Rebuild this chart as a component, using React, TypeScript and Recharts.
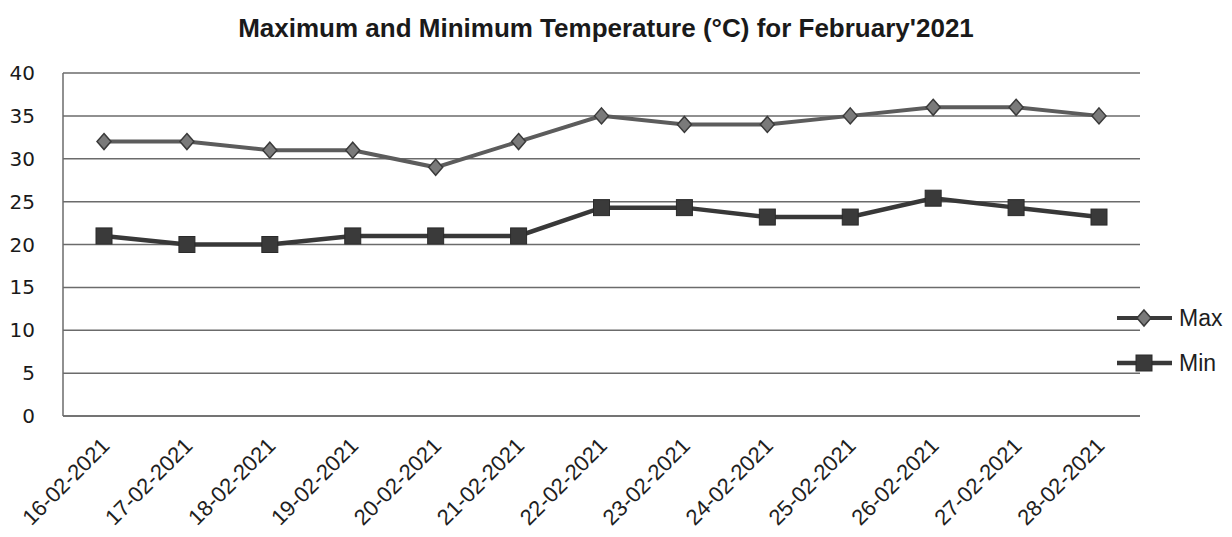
import { CartesianGrid, Legend, Line, LineChart, XAxis, YAxis } from "recharts";

const dates = [
  "16-02-2021",
  "17-02-2021",
  "18-02-2021",
  "19-02-2021",
  "20-02-2021",
  "21-02-2021",
  "22-02-2021",
  "23-02-2021",
  "24-02-2021",
  "25-02-2021",
  "26-02-2021",
  "27-02-2021",
  "28-02-2021",
];
const maxTemp = [32, 32, 31, 31, 29, 32, 35, 34, 34, 35, 36, 36, 35];
const minTemp = [21, 20, 20, 21, 21, 21, 24.3, 24.3, 23.2, 23.2, 25.4, 24.3, 23.2];
const yTicks = [0, 5, 10, 15, 20, 25, 30, 35, 40];

const MAX_COLOR = "#5c5c5c";
const MIN_COLOR = "#383838";

const data = dates.map((d, i) => ({ date: d, Max: maxTemp[i], Min: minTemp[i] }));

function Diamond(props: any) {
  const { cx, cy } = props;
  if (cx == null || cy == null) return null;
  return (
    <path
      d={`M${cx},${cy - 8} L${cx + 7},${cy} L${cx},${cy + 8} L${cx - 7},${cy} Z`}
      fill="#7a7a7a"
      stroke="#3a3a3a"
      strokeWidth={1.5}
    />
  );
}

function Square(props: any) {
  const { cx, cy } = props;
  if (cx == null || cy == null) return null;
  return <rect x={cx - 8} y={cy - 8} width={16} height={16} fill="#3a3a3a" stroke="#2a2a2a" strokeWidth={1} />;
}

function DateTick(props: any) {
  const { x, y, payload } = props;
  return (
    <g transform={`translate(${x + 7},${y + 31})`}>
      <text
        x={0}
        y={0}
        textAnchor="end"
        transform="rotate(-45)"
        fontSize={22}
        fontFamily="'Liberation Sans', Arial, sans-serif"
        fill="#1e1e1e"
      >
        {payload.value}
      </text>
    </g>
  );
}

function renderLegend() {
  const row = (label: string, color: string, w: number, marker: React.ReactNode) => (
    <div style={{ display: "flex", alignItems: "center", height: 24, marginBottom: 21 }}>
      <svg width={58} height={24}>
        <line x1={1} y1={12} x2={56} y2={12} stroke={color} strokeWidth={w} />
        {marker}
      </svg>
      <span style={{ fontSize: 23, fontFamily: "'Liberation Sans', Arial, sans-serif", color: "#1e1e1e", marginLeft: 5 }}>
        {label}
      </span>
    </div>
  );
  return (
    <div>
      {row("Max", "#3a3a3a", 4, <Diamond cx={28} cy={12} />)}
      {row("Min", MIN_COLOR, 4.5, <Square cx={28} cy={12} />)}
    </div>
  );
}

export default function App() {
  return (
    <div style={{ position: "relative", width: 1216, height: 521 }}>
      <div
        style={{
          position: "absolute",
          top: 5,
          left: 0,
          width: 1216,
          textAlign: "center",
          fontFamily: "'Liberation Sans', Arial, sans-serif",
          fontWeight: "bold",
          fontSize: 26,
          color: "#1a1a1a",
        }}
      >
        <span style={{ position: "relative", left: -10 }}>
          Maximum and Minimum Temperature (°C) for February'2021
        </span>
      </div>
      <LineChart width={1216} height={521} data={data} margin={{ top: 65, right: 84, left: 0, bottom: 0 }}>
        <CartesianGrid stroke="#6b6b6b" strokeWidth={1.5} vertical={false} />
        <XAxis
          dataKey="date"
          height={113}
          padding={{ left: 41, right: 41 }}
          axisLine={{ stroke: "#6b6b6b", strokeWidth: 1.5 }}
          tickLine={false}
          tickSize={0}
          tickMargin={0}
          interval={0}
          tick={<DateTick />}
        />
        <YAxis
          width={55}
          domain={[0, 40]}
          ticks={yTicks}
          axisLine={{ stroke: "#6b6b6b", strokeWidth: 1.5 }}
          tickLine={false}
          tickSize={0}
          tickMargin={28}
          tick={{ fontSize: 20, fontFamily: "'DejaVu Sans', Verdana, sans-serif", fill: "#1a1a1a" }}
        />
        <Legend
          content={renderLegend}
          layout="horizontal"
          verticalAlign="middle"
          align="center"
          wrapperStyle={{ position: "absolute", left: 1108, top: 298, width: 110 }}
        />
        <Line
          dataKey="Max"
          type="linear"
          stroke={MAX_COLOR}
          strokeWidth={4}
          dot={<Diamond />}
          activeDot={false}
          isAnimationActive={false}
        />
        <Line
          dataKey="Min"
          type="linear"
          stroke={MIN_COLOR}
          strokeWidth={4.5}
          dot={<Square />}
          activeDot={false}
          isAnimationActive={false}
        />
      </LineChart>
    </div>
  );
}
